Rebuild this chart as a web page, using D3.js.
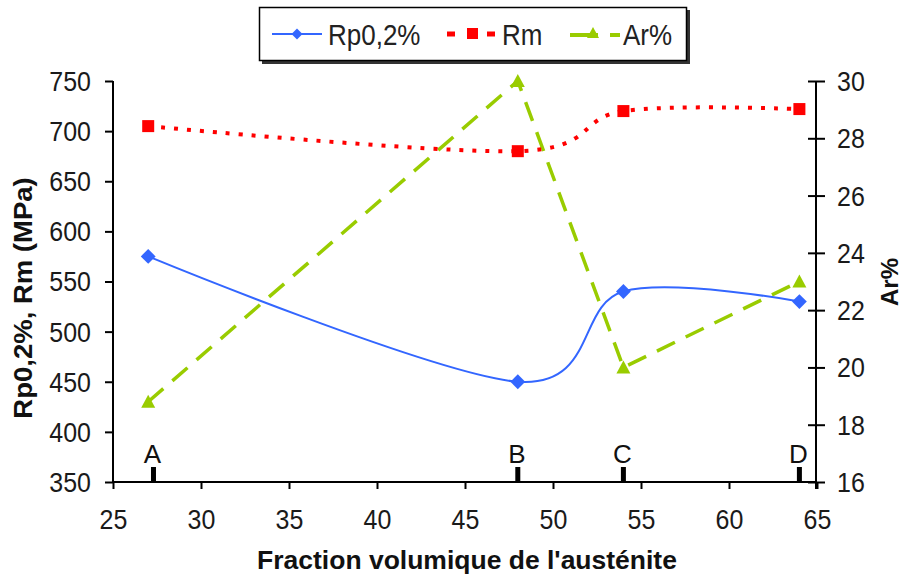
<!DOCTYPE html>
<html><head><meta charset="utf-8">
<script src="https://cdn.jsdelivr.net/npm/d3@7"></script>
<style>
html,body{margin:0;padding:0;background:#fff;}
svg{display:block;font-family:"Liberation Sans",Arial,sans-serif;}
</style></head>
<body><svg id="c" width="903" height="578"></svg>
<script>
const fraction = [27, 48, 54, 64];
const rp02 = [575, 450, 540, 530];
const rm = [705, 680, 720, 722];
const ar = [18.8, 30, 20, 23];
const pointLabels = ["A", "B", "C", "D"];
const labelPos = [27.3, 48, 54, 64];
const xTicks = [25, 30, 35, 40, 45, 50, 55, 60, 65];
const yLeftTicks = [350, 400, 450, 500, 550, 600, 650, 700, 750];
const yRightTicks = [16, 18, 20, 22, 24, 26, 28, 30];
const seriesNames = ["Rp0,2%", "Rm", "Ar%"];

const svg = d3.select("#c");
const x = d3.scaleLinear().domain([25, 65]).range([113, 817]);
const yL = d3.scaleLinear().domain([350, 750]).range([482, 81]);
const yR = d3.scaleLinear().domain([16, 30]).range([482, 81]);

const BLUE = "#3366ff", RED = "#ff0000", GREEN = "#99cc00";

function stretch(sel, sy) {
  sel.each(function() {
    const t = d3.select(this);
    const tx = +t.attr("x") || 0, ty = +t.attr("y") || 0;
    t.attr("x", 0).attr("y", 0).attr("transform", `translate(${tx},${ty}) scale(1,${sy})`);
  });
}

// Axes
const gL = svg.append("g").attr("transform", "translate(113,0)")
  .call(d3.axisLeft(yL).tickValues(yLeftTicks).tickSize(8).tickSizeOuter(0).tickPadding(14));
const gR = svg.append("g").attr("transform", "translate(816,0)")
  .call(d3.axisRight(yR).tickValues(yRightTicks).tickSize(9).tickSizeOuter(0).tickPadding(12));
gR.selectAll(".tick line").attr("x1", -8);
const gB = svg.append("g").attr("transform", "translate(0,482)")
  .call(d3.axisBottom(x).tickValues(xTicks).tickSize(7).tickSizeOuter(0).tickPadding(21));
[gL, gR, gB].forEach(g => {
  g.selectAll("path.domain").attr("stroke", "#000").attr("stroke-width", 2);
  g.selectAll(".tick line").attr("stroke", "#000").attr("stroke-width", 2);
  g.selectAll(".tick text").attr("font-size", 25).attr("fill", "#1a1a1a").attr("font-family", "Liberation Sans, Arial, sans-serif");
});
gR.select("path.domain").attr("d", "M0,81V489");
gL.select("path.domain").attr("d", "M0,81V482");
gB.select("path.domain").attr("d", "M113,0H816");
gL.selectAll(".tick text").each(function(){ d3.select(this).attr("dy", null).attr("dominant-baseline","central"); });
gR.selectAll(".tick text").each(function(){ d3.select(this).attr("dy", null).attr("dominant-baseline","central"); });
gB.selectAll(".tick text").each(function(){ d3.select(this).attr("dy", null).attr("y", 38).attr("dominant-baseline","central"); });
stretch(gL.selectAll(".tick text"), 1.12);
stretch(gR.selectAll(".tick text"), 1.12);
stretch(gB.selectAll(".tick text"), 1.12);

// Point label markers A-D
const lab = svg.append("g");
lab.selectAll("rect").data(labelPos).join("rect")
  .attr("x", d => x(d) - 2.5).attr("y", 467).attr("width", 5).attr("height", 14).attr("fill", "#000");
lab.selectAll("text").data(pointLabels).join("text")
  .attr("x", (d, i) => x(labelPos[i]) - 1).attr("y", 463)
  .attr("text-anchor", "middle").attr("font-size", 26).attr("fill", "#111").text(d => d);

// Lines
const smooth = d3.curveCardinal.tension(0);
const rows = fraction.map((f, i) => ({f, rp: rp02[i], rm: rm[i], ar: ar[i]}));

svg.append("path").datum(rows)
  .attr("d", d3.line().x(d => x(d.f)).y(d => yR(d.ar)))
  .attr("fill", "none").attr("stroke", GREEN).attr("stroke-width", 3.5)
  .attr("stroke-dasharray", "20,12");
svg.append("path").datum(rows)
  .attr("d", d3.line().x(d => x(d.f)).y(d => yL(d.rm)).curve(smooth))
  .attr("fill", "none").attr("stroke", RED).attr("stroke-width", 4)
  .attr("stroke-dasharray", "4,9");
svg.append("path").datum(rows)
  .attr("d", d3.line().x(d => x(d.f)).y(d => yL(d.rp)).curve(smooth))
  .attr("fill", "none").attr("stroke", BLUE).attr("stroke-width", 2);

// Markers
const diamond = d3.symbol().type(d3.symbolSquare).size(110)();
svg.append("g").selectAll("path").data(rows).join("path")
  .attr("d", diamond).attr("fill", BLUE)
  .attr("transform", d => `translate(${x(d.f)},${yL(d.rp)}) rotate(45)`);
svg.append("g").selectAll("rect").data(rows).join("rect")
  .attr("x", d => x(d.f) - 6).attr("y", d => yL(d.rm) - 6)
  .attr("width", 12).attr("height", 12).attr("fill", RED);
const tri = "M0,-7L7,6H-7Z";
svg.append("g").selectAll("path").data(rows).join("path")
  .attr("d", tri).attr("fill", GREEN)
  .attr("transform", d => `translate(${x(d.f)},${yR(d.ar)})`);

// Axis titles
svg.append("text").attr("font-size", 25).attr("font-weight", "bold").attr("fill", "#111")
  .attr("text-anchor", "middle").attr("transform", "translate(32,298) rotate(-90) scale(1.1,1)")
  .text("Rp0,2%, Rm (MPa)");
svg.append("text").attr("font-size", 24).attr("font-weight", "bold").attr("fill", "#111")
  .attr("text-anchor", "middle").attr("transform", "translate(898,282) rotate(-90)")
  .text("Ar%");
svg.append("text").attr("font-size", 25).attr("font-weight", "bold").attr("fill", "#111")
  .attr("text-anchor", "middle").attr("x", 0).attr("y", 0)
  .attr("transform", "translate(467,569) scale(1.06,1.05)")
  .text("Fraction volumique de l'austénite");

// Legend
const lg = svg.append("g");
lg.append("rect").attr("x", 262).attr("y", 10).attr("width", 428).attr("height", 54).attr("fill", "#333");
lg.append("rect").attr("x", 259.5).attr("y", 7.5).attr("width", 427).attr("height", 53).attr("fill", "#fff").attr("stroke", "#000").attr("stroke-width", 1.5);
// Rp
lg.append("line").attr("x1", 272).attr("x2", 322).attr("y1", 34).attr("y2", 34).attr("stroke", BLUE).attr("stroke-width", 2);
lg.append("path").attr("d", d3.symbol().type(d3.symbolSquare).size(60)()).attr("fill", BLUE).attr("transform", "translate(297,34) rotate(45)");
// Rm
lg.append("line").attr("x1", 447).attr("x2", 499).attr("y1", 34).attr("y2", 34).attr("stroke", RED).attr("stroke-width", 5).attr("stroke-dasharray", "8,12");
lg.append("rect").attr("x", 467).attr("y", 28).attr("width", 11).attr("height", 11).attr("fill", RED);
// Ar
lg.append("line").attr("x1", 570).attr("x2", 620).attr("y1", 35).attr("y2", 35).attr("stroke", GREEN).attr("stroke-width", 4).attr("stroke-dasharray", "28,12");
lg.append("path").attr("d", "M0,-6L6,5H-6Z").attr("fill", GREEN).attr("transform", "translate(593,33)");
const legText = [[seriesNames[0], 328], [seriesNames[1], 502], [seriesNames[2], 623]];
legText.forEach(([t, lx]) => {
  lg.append("text").attr("x", 0).attr("y", 0).attr("font-size", 26).attr("fill", "#222")
    .attr("transform", `translate(${lx},45) scale(1,1.12)`).text(t);
});
</script></body></html>
